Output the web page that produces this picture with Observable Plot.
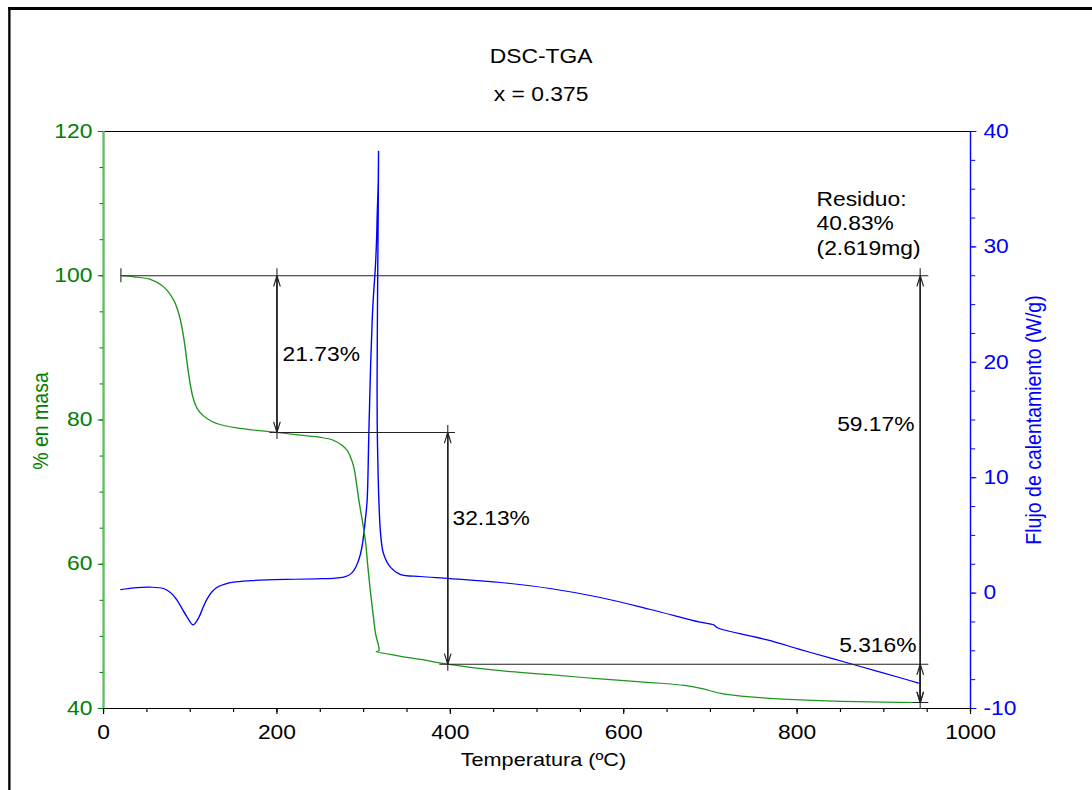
<!DOCTYPE html>
<html>
<head>
<meta charset="utf-8">
<script src="https://cdn.jsdelivr.net/npm/d3@7"></script>
<script src="https://cdn.jsdelivr.net/npm/@observablehq/plot@0.6"></script>
<style>
  html, body { margin: 0; padding: 0; background: #fff; overflow: hidden; width: 1092px; height: 790px; }
  /* the whole sheet is drawn slightly wide, as the instrument software exports it */
  #page { position: absolute; left: 0; top: 0; width: 933px; height: 790px;
          transform: scaleX(1.17); transform-origin: 0 0;
          font-family: "Liberation Sans", Arial, sans-serif; }
  #frame { position: absolute; left: 6.8px; top: 7px; width: 1000px; height: 900px;
           border-left: 2.6px solid #000; border-top: 3px solid #000; }
  #chart { position: absolute; left: 0; top: 0; }
  .title { position: absolute; left: 0; width: 925px; text-align: center;
           font-size: 19.5px; line-height: 20px; color: #000; white-space: nowrap; }
  .lab { position: absolute; white-space: nowrap; line-height: 20px; }
</style>
</head>
<body>
<div id="page">
  <div id="frame"></div>
  <div id="chart"></div>
  <div class="title" style="top:46px">DSC-TGA</div>
  <div class="title" style="top:84px">x = 0.375</div>
  <div class="lab" style="left:34.2px; top:421px; transform:translate(-50%,-50%) rotate(-90deg); color:#008000; font-size:19.5px">% en masa</div>
  <div class="lab" style="left:882.9px; top:420px; transform:translate(-50%,-50%) rotate(-90deg); color:#0000ff; font-size:19.5px">Flujo de calentamiento (W/g)</div>
  <div class="lab" style="left:464.5px; top:760px; transform:translate(-50%,-50%); color:#000; font-size:18.5px">Temperatura (ºC)</div>
</div>
<script>
// TGA: residual mass (%) against temperature (ºC)
const tgaTemp = [20, 35, 54, 69, 81, 88, 93, 98, 103, 108, 115, 125, 140, 160, 200, 227, 250, 265, 275, 281, 286, 289, 292, 295, 298.4, 302, 305, 308, 311, 313.7, 317.6, 314.5, 340, 365.6, 397, 430, 470, 515, 573, 631, 670, 689, 712, 746, 804, 870, 942];
const tgaMass = [100.0, 99.85, 99.5, 98.5, 96.6, 94.2, 91.0, 86.5, 83.2, 81.6, 80.6, 79.8, 79.2, 78.8, 78.27, 77.9, 77.6, 77.2, 76.5, 75.8, 74.5, 73.3, 71.0, 68.5, 66.1, 63.3, 59.5, 56.0, 53.0, 50.4, 48.0, 47.9, 47.3, 46.8, 46.14, 45.6, 45.1, 44.7, 44.1, 43.6, 43.2, 42.8, 42.1, 41.6, 41.2, 40.95, 40.83];

// DSC: heat flow (W/g) against temperature (ºC)
const dscTemp = [20, 35, 54, 69, 78, 85, 91, 96.5, 103.5, 110, 115, 119.6, 125, 131, 140, 150, 170, 189, 220, 246, 265, 277, 284, 288.7, 293, 296.4, 298.5, 300.2, 302, 304, 306, 308, 310, 311.7, 313.5, 315, 315.7, 316.8, 317.2, 316.8, 316, 315.5, 315.8, 316.8, 317.6, 319.5, 323, 331, 342.6, 365.6, 400, 458, 515, 573, 631, 688, 703.6, 708, 765.5, 804, 842, 873, 919, 940];
const dscFlow = [0.3, 0.45, 0.51, 0.4, 0.0, -0.64, -1.4, -2.09, -2.75, -2.09, -1.2, -0.49, 0.1, 0.51, 0.78, 0.95, 1.08, 1.15, 1.2, 1.24, 1.28, 1.38, 1.6, 1.96, 2.6, 3.4, 4.2, 5.14, 6.4, 8.0, 13.8, 19.6, 23.9, 26.2, 28.2, 30.8, 32.9, 35.5, 38.3, 33.0, 25.0, 18.0, 13.8, 10.0, 8.0, 5.2, 3.4, 2.24, 1.6, 1.44, 1.26, 0.92, 0.4, -0.38, -1.42, -2.52, -2.75, -3.0, -4.05, -4.9, -5.7, -6.36, -7.34, -7.8];

// axes
const tempTicks = [0, 200, 400, 600, 800, 1000];
const massTicks = [40, 60, 80, 100, 120];
const flowTicks = [-10, 0, 10, 20, 30, 40];

// mass-loss evaluation
const startMass = 100;
const lossSteps = [21.73, 32.13];
const lastStep = 5.316;
const totalLoss = 59.17;
const residue = 40.83;
const residueMg = 2.619;

const green = "#008000", curveGreen = "#1f951f", axisGreen = "#66bb66", blue = "#0000ff", ink = "#222";

const massDomain = [40, 120], flowDomain = [-10, 40];
const toMass = v => massDomain[0] + (v - flowDomain[0]) * (massDomain[1] - massDomain[0]) / (flowDomain[1] - flowDomain[0]);
const toFlow = m => flowDomain[0] + (m - massDomain[0]) * (flowDomain[1] - flowDomain[0]) / (massDomain[1] - massDomain[0]);

const tga = tgaTemp.map((t, i) => ({t, m: tgaMass[i]}));
const dsc = dscTemp.map((t, i) => ({t, m: toMass(dscFlow[i])}));

const level1 = startMass - lossSteps[0];
const level2 = level1 - lossSteps[1];

// annotation geometry (temperature where each bracket is drawn)
const xStep1 = 200, xStep2 = 397, xTotal = 942;

const hLines = [
  {x1: 20, x2: 952, y: startMass},
  {x1: 192, x2: 406, y: level1},
  {x1: 388, x2: 952, y: level2},
  {x1: 934, x2: 952, y: residue}
];
const vLines = [
  {x: 20, y1: startMass, y2: startMass},
  {x: xStep1, y1: startMass, y2: level1},
  {x: xStep2, y1: level1, y2: level2},
  {x: xTotal, y1: startMass, y2: residue}
];
const arrows = [
  {x: xStep1, from: level1, to: startMass},
  {x: xStep1, from: startMass, to: level1},
  {x: xStep2, from: level2, to: level1},
  {x: xStep2, from: level1, to: level2},
  {x: xTotal, from: residue, to: startMass},
  {x: xTotal, from: startMass, to: residue},
  {x: xTotal, from: residue, to: residue + lastStep},
  {x: xTotal, from: residue + lastStep, to: residue}
];
const pct = v => `${v}%`;
const leftLabels = [
  {x: 206.5, y: 89.2, text: pct(lossSteps[0])},
  {x: 402.5, y: 66.5, text: pct(lossSteps[1])},
  {x: 822.4, y: 107.4, text: `Residuo:\n${pct(residue)}\n(${residueMg}mg)`}
];
const rightLabels = [
  {x: 935.4, y: 79.4, text: pct(totalLoss)},
  {x: 937.7, y: 48.7, text: pct(lastStep)}
];

const chart = Plot.plot({
  width: 933,
  height: 790,
  marginLeft: 88,
  marginRight: 104,
  marginTop: 131,
  marginBottom: 82,
  x: {domain: [0, 1000]},
  y: {domain: massDomain},
  style: {fontFamily: "Liberation Sans, Arial, sans-serif", fontSize: "19.5px", background: "transparent", overflow: "visible"},
  marks: [
    // frame
    Plot.ruleY([massDomain[1]], {stroke: "#000", strokeWidth: 1}),
    Plot.ruleY([massDomain[0]], {stroke: "#000", strokeWidth: 1}),
    Plot.ruleX([0], {stroke: axisGreen, strokeWidth: 2}),
    Plot.ruleX([1000], {stroke: blue, strokeWidth: 1.2}),

    // temperature axis
    Plot.axisX({ticks: d3.range(0, 1001, 50), tickSize: 4, tickFormat: () => "", stroke: "#000"}),
    Plot.axisX({ticks: tempTicks, tickSize: 6, tickPadding: 11, color: "#000", tickFormat: d => String(d)}),

    // mass axis (left)
    Plot.axisY({ticks: d3.range(40, 121, 5), tickSize: 3, tickFormat: () => "", stroke: green}),
    Plot.axisY({ticks: massTicks, tickSize: 4.5, tickPadding: 5, color: green, tickFormat: d => String(d)}),

    // heat-flow axis (right)
    Plot.axisY({anchor: "right", ticks: d3.range(-10, 40.01, 2.5).map(toMass), tickSize: 3.5, tickFormat: () => "", stroke: blue}),
    Plot.axisY({anchor: "right", ticks: flowTicks.map(toMass), tickSize: 4.5, tickPadding: 6.5, color: blue,
                tickFormat: d => String(Math.round(toFlow(d)))}),

    // curves
    Plot.line(dsc, {x: "t", y: "m", stroke: blue, strokeWidth: 1.2, curve: "catmull-rom"}),
    Plot.line(tga, {x: "t", y: "m", stroke: curveGreen, strokeWidth: 1.2, curve: "catmull-rom"}),

    // mass-loss brackets
    Plot.ruleY(hLines, {x1: "x1", x2: "x2", y: "y", stroke: ink, strokeWidth: 1}),
    Plot.ruleX(vLines, {x: "x", y1: "y1", y2: "y2", insetTop: -7, insetBottom: -7, stroke: "#555", strokeWidth: 1.2}),
    Plot.arrow(arrows, {x1: "x", x2: "x", y1: "from", y2: "to", stroke: ink, strokeWidth: 1, headAngle: 30, headLength: 16}),
    Plot.text(leftLabels, {x: "x", y: "y", text: "text", textAnchor: "start", fill: "#000", fontSize: 19.5, lineHeight: 1.25}),
    Plot.text(rightLabels, {x: "x", y: "y", text: "text", textAnchor: "end", fill: "#000", fontSize: 19.5})
  ]
});
document.getElementById("chart").appendChild(chart);
</script>
</body>
</html>
